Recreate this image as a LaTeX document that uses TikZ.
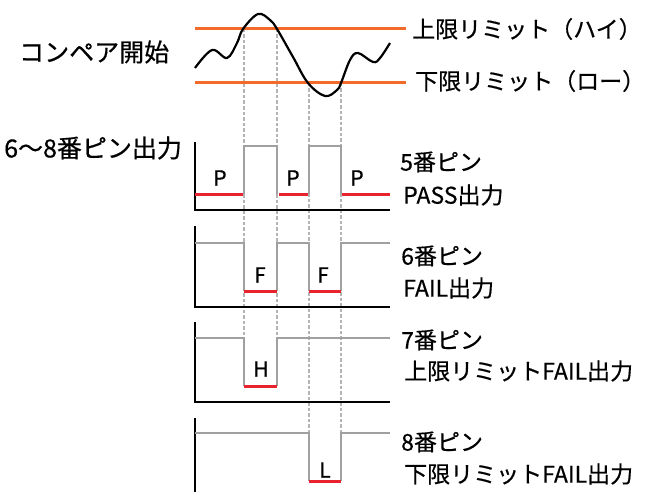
\documentclass[tikz,border=0pt]{standalone}
\usepackage{fontspec}
\setmainfont{Noto Sans CJK JP}[FakeBold=0.5]
\usetikzlibrary{positioning}
\definecolor{limitorange}{HTML}{F26B2A}
\definecolor{passred}{HTML}{E8232D}
\definecolor{levelgray}{HTML}{A0A0A0}
\definecolor{guidegray}{HTML}{B4B4B4}
\tikzset{
  limit line/.style={
    draw=limitorange, line width=3pt
  },
  guide line/.style={
    draw=guidegray, line width=2pt, dash pattern=on 3.5pt off 2pt
  },
  axis line/.style={
    draw=black, line width=2.2pt
  },
  level line/.style={
    draw=levelgray, line width=2.2pt
  },
  out line/.style={
    draw=passred, line width=3pt
  },
  level text/.style={
    inner sep=0pt, font=\fontsize{21}{24}\selectfont
  },
  pin text/.style={
    anchor=west, inner sep=0pt, font=\fontsize{23}{26}\selectfont
  },
  side text/.style={
    anchor=west, inner sep=0pt, font=\fontsize{25}{28}\selectfont
  }
}

\begin{document}
\begin{tikzpicture}[x=1pt, y=-1pt]
\useasboundingbox (0,0) rectangle (652,492);

% 比較波形とリミット
\coordinate (hi0) at (195,29);
\coordinate (hi1) at (406,29);
\coordinate (lo0) at (195,83);
\coordinate (lo1) at (406,83);
\coordinate (g1) at (244,29);
\coordinate (g2) at (277,29);
\coordinate (g3) at (309,83);
\coordinate (g4) at (341,83);
\coordinate (e1) at (244,386);
\coordinate (e2) at (277,386);
\coordinate (e3) at (309,433);
\coordinate (e4) at (341,433);

\draw[guide line] (g1) -- (e1);
\draw[guide line] (g2) -- (e2);
\draw[guide line] (g3) -- (e3);
\draw[guide line] (g4) -- (e4);

\draw[limit line] (hi0) -- (hi1);
\draw[limit line] (lo0) -- (lo1);
\draw[black, line width=2.2pt] plot[smooth, tension=0.6] coordinates {
  (195,68) (212,50) (227,58) (237,43) (243,29) (258,14) (270,20) (277,29)
  (293,57) (308,83) (325,96) (337,90) (341,83) (350,60) (358,53) (373,62)
  (380,58) (390,43)};

\node[side text] (start) at (19,52) {コンペア開始};
\node[pin text] (hilab) at (412,29) {上限リミット（ハイ）};
\node[pin text] (lolab) at (415,81) {下限リミット（ロー）};
\node[side text] (outlab) at (4,148) {6〜8番ピン出力};

% 5番ピン：PASS
\begin{scope}
  \draw[axis line] (195,142) -- (195,210) -- (390,210);
  \draw[level line] (244,194) -- (244,146) -- (277,146) -- (277,194);
  \draw[level line] (309,194) -- (309,146) -- (341,146) -- (341,194);
  \draw[out line] (195,194) -- (243,194);
  \draw[out line] (279,194) -- (308,194);
  \draw[out line] (342,194) -- (390,194);
  \node[level text] (p1) at (220,178) {P};
  \node[level text] (p2) at (293,178) {P};
  \node[level text] (p3) at (357,178) {P};
  \node[pin text] (pin5) at (400,162) {5番ピン};
  \node[pin text] (pass) at (403,195) {PASS出力};
\end{scope}

% 6番ピン：FAIL
\begin{scope}
  \draw[axis line] (195,226) -- (195,307) -- (390,307);
  \draw[level line] (195,243) -- (244,243) -- (244,291);
  \draw[level line] (277,291) -- (277,243) -- (309,243) -- (309,291);
  \draw[level line] (341,291) -- (341,243) -- (390,243);
  \draw[out line] (244,291) -- (277,291);
  \draw[out line] (309,291) -- (341,291);
  \node[level text] (f1) at (260,275) {F};
  \node[level text] (f2) at (323,275) {F};
  \node[pin text] (pin6) at (401,256) {6番ピン};
  \node[pin text] (fail) at (403,288) {FAIL出力};
\end{scope}

% 7番ピン：上限FAIL
\begin{scope}
  \draw[axis line] (195,322) -- (195,402) -- (390,402);
  \draw[level line] (195,338) -- (244,338) -- (244,386);
  \draw[level line] (277,386) -- (277,338) -- (390,338);
  \draw[out line] (244,386) -- (277,386);
  \node[level text] (h1) at (261,369) {H};
  \node[pin text] (pin7) at (401,340) {7番ピン};
  \node[pin text] (hifail) at (404,371) {上限リミットFAIL出力};
\end{scope}

% 8番ピン：下限FAIL
\begin{scope}
  \draw[axis line] (195,418) -- (195,492);
  \draw[level line] (195,433) -- (309,433) -- (309,481);
  \draw[level line] (341,481) -- (341,433) -- (390,433);
  \draw[out line] (309,481) -- (341,481);
  \node[level text] (l1) at (325,470) {L};
  \node[pin text] (pin8) at (401,442) {8番ピン};
  \node[pin text] (lofail) at (404,474) {下限リミットFAIL出力};
\end{scope}

\end{tikzpicture}
\end{document}
